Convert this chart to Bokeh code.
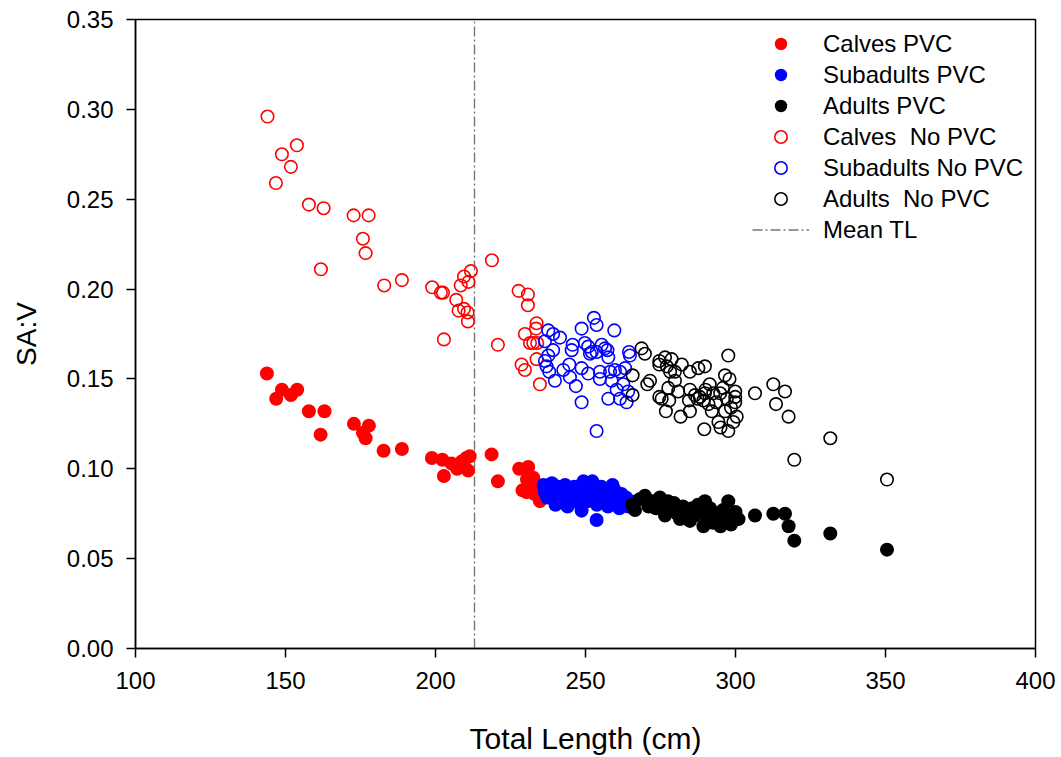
from bokeh.plotting import figure
from bokeh.models import Range1d, FixedTicker, NumeralTickFormatter, Legend, LegendItem
from bokeh.embed import file_html
from bokeh.resources import INLINE

# Total length (cm) and surface-area-to-volume ratio by age class
calves_pvc_tl = [143.8, 148.8, 146.9, 151.8, 153.9, 157.8, 163.0, 161.7, 172.8, 177.8, 175.8, 176.7,
                 182.7, 188.8, 198.8, 202.3, 202.8, 205.3, 207.2, 208.7, 210.3, 211.4, 210.9, 209.4,
                 218.7, 220.8, 227.9, 230.9, 229.0, 230.3, 232.6, 234.8, 234.0, 230.5, 233.0, 232.0]
calves_pvc_sav = [0.153, 0.144, 0.139, 0.141, 0.144, 0.132, 0.132, 0.119, 0.125, 0.124, 0.120, 0.117,
                  0.110, 0.111, 0.106, 0.105, 0.096, 0.103, 0.100, 0.104, 0.106, 0.107, 0.099, 0.101,
                  0.108, 0.093, 0.100, 0.101, 0.088, 0.087, 0.095, 0.082, 0.091, 0.094, 0.086, 0.090]

sub_pvc_tl = [236.0, 236.5, 237.2, 238.0, 238.8, 239.5, 240.2, 241.0, 241.8, 242.5, 243.2, 244.0,
              244.8, 245.5, 246.2, 247.0, 247.8, 248.6, 249.3, 250.0, 250.8, 251.5, 252.3, 253.0,
              253.8, 254.5, 255.3, 256.0, 256.8, 257.5, 258.3, 259.0, 259.8, 260.5, 261.3, 262.0,
              262.8, 263.5, 264.3, 265.0, 253.7, 248.7, 244.0, 240.0]
sub_pvc_sav = [0.091, 0.087, 0.084, 0.089, 0.092, 0.086, 0.083, 0.090, 0.087, 0.085, 0.091, 0.088,
               0.083, 0.086, 0.090, 0.084, 0.081, 0.087, 0.093, 0.085, 0.082, 0.089, 0.093, 0.086,
               0.080, 0.084, 0.090, 0.087, 0.082, 0.079, 0.085, 0.091, 0.088, 0.083, 0.078, 0.086,
               0.081, 0.084, 0.079, 0.082, 0.0715, 0.0767, 0.079, 0.080]

adult_pvc_tl = [265.5, 266.5, 268.0, 269.8, 271.0, 272.5, 273.5, 274.8, 275.5, 276.5, 277.5, 278.5,
                279.5, 280.5, 281.5, 282.5, 283.5, 284.8, 285.5, 286.5, 287.5, 288.5, 289.3, 289.8,
                290.5, 291.5, 292.5, 293.5, 294.5, 295.0, 295.8, 296.5, 297.6, 298.0, 298.5, 299.3,
                300.0, 301.0, 306.5, 312.6, 316.5, 317.7, 319.6, 331.6, 350.5]
adult_pvc_sav = [0.080, 0.077, 0.083, 0.085, 0.079, 0.082, 0.078, 0.084, 0.080, 0.074, 0.082, 0.077,
                 0.081, 0.075, 0.072, 0.079, 0.076, 0.071, 0.078, 0.074, 0.080, 0.076, 0.068, 0.082,
                 0.073, 0.078, 0.070, 0.075, 0.072, 0.068, 0.077, 0.071, 0.082, 0.074, 0.069, 0.071,
                 0.076, 0.072, 0.074, 0.075, 0.075, 0.068, 0.060, 0.064, 0.055]

calves_nopvc_tl = [144.0, 153.8, 148.8, 151.8, 146.8, 157.8, 162.7, 172.7, 177.7, 175.8, 176.7, 161.8,
                   182.9, 188.8, 198.9, 201.8, 202.5, 202.8, 206.9, 207.7, 209.5, 210.7, 210.8, 208.4,
                   209.5, 211.0, 211.8, 218.8, 220.8, 227.7, 230.8, 230.8, 233.7, 233.5, 229.8, 231.5,
                   232.6, 233.9, 228.7, 229.8, 234.8, 233.7]
calves_nopvc_sav = [0.296, 0.280, 0.275, 0.268, 0.259, 0.247, 0.245, 0.241, 0.241, 0.228, 0.220, 0.211,
                    0.202, 0.205, 0.201, 0.198, 0.198, 0.172, 0.194, 0.188, 0.189, 0.187, 0.182, 0.202,
                    0.207, 0.204, 0.210, 0.216, 0.169, 0.199, 0.197, 0.191, 0.181, 0.178, 0.175, 0.170,
                    0.170, 0.170, 0.158, 0.155, 0.147, 0.161]

sub_nopvc_tl = [252.8, 253.7, 248.7, 259.6, 237.6, 239.2, 241.5, 236.5, 245.7, 249.8, 250.9, 255.4,
                256.5, 257.3, 239.2, 245.4, 252.1, 253.7, 251.5, 264.8, 257.6, 236.5, 237.6, 244.6,
                248.7, 250.9, 254.8, 258.2, 259.8, 261.5, 263.2, 237.0, 237.9, 239.8, 242.6, 244.8,
                246.8, 248.7, 254.8, 258.7, 260.4, 257.6, 261.5, 263.7, 264.2, 253.7, 262.6, 264.5]
sub_nopvc_sav = [0.184, 0.180, 0.178, 0.177, 0.177, 0.175, 0.173, 0.171, 0.169, 0.170, 0.168, 0.169,
                 0.167, 0.166, 0.166, 0.166, 0.165, 0.165, 0.164, 0.163, 0.162, 0.160, 0.163, 0.158,
                 0.156, 0.153, 0.154, 0.154, 0.155, 0.154, 0.156, 0.157, 0.154, 0.149, 0.155, 0.151,
                 0.146, 0.137, 0.150, 0.149, 0.144, 0.139, 0.139, 0.137, 0.143, 0.121, 0.147, 0.165]

adult_nopvc_tl = [268.7, 269.8, 265.7, 265.7, 270.6, 271.5, 274.6, 276.5, 278.7, 274.6, 277.1, 278.2,
                  279.8, 282.1, 284.8, 287.6, 289.8, 297.6, 296.5, 298.0, 279.8, 277.6, 275.4, 274.6,
                  277.9, 280.9, 284.8, 284.5, 276.8, 281.7, 284.8, 288.1, 289.8, 291.4, 292.6, 294.9,
                  297.1, 299.9, 299.9, 299.9, 289.3, 291.0, 292.1, 296.5, 300.4, 299.3, 294.3, 295.0,
                  297.6, 289.6, 306.5, 312.6, 316.5, 313.5, 317.7, 331.6, 319.6, 350.5, 286.5, 287.3,
                  290.0, 293.5, 295.8, 298.5]
adult_nopvc_sav = [0.167, 0.164, 0.152, 0.141, 0.147, 0.149, 0.160, 0.162, 0.161, 0.158, 0.157, 0.154,
                   0.154, 0.158, 0.154, 0.156, 0.157, 0.163, 0.152, 0.150, 0.149, 0.145, 0.139, 0.140,
                   0.138, 0.143, 0.144, 0.138, 0.132, 0.129, 0.132, 0.140, 0.142, 0.147, 0.142, 0.142,
                   0.139, 0.143, 0.140, 0.137, 0.138, 0.136, 0.132, 0.132, 0.129, 0.126, 0.126, 0.123,
                   0.121, 0.122, 0.142, 0.147, 0.143, 0.136, 0.129, 0.117, 0.105, 0.094, 0.141, 0.139,
                   0.144, 0.137, 0.145, 0.134]

MEAN_TL = 213.0

x_ticks = [100, 150, 200, 250, 300, 350, 400]
y_ticks = [0.0, 0.05, 0.10, 0.15, 0.20, 0.25, 0.30, 0.35]

FONT = "Liberation Sans"

p = figure(width=1061, height=757, x_range=Range1d(100, 400), y_range=Range1d(0, 0.35),
           output_backend="svg", toolbar_location=None,
           min_border_left=135, min_border_right=26, min_border_top=19, min_border_bottom=109)
p.background_fill_color = "white"
p.border_fill_color = "white"
p.outline_line_color = "black"
p.outline_line_width = 1.5
p.xgrid.visible = False
p.ygrid.visible = False

for ax in (p.xaxis[0], p.yaxis[0]):
    ax.axis_line_color = "black"
    ax.axis_line_width = 1.5
    ax.major_tick_line_color = "black"
    ax.major_tick_line_width = 1.5
    ax.major_tick_in = 0
    ax.major_tick_out = 9
    ax.minor_tick_line_color = None
    ax.major_label_text_font = FONT
    ax.major_label_text_font_size = "24px"
    ax.major_label_text_color = "black"
    ax.axis_label_text_font = FONT
    ax.axis_label_text_font_style = "normal"
    ax.axis_label_text_color = "black"

p.xaxis.ticker = FixedTicker(ticks=x_ticks)
p.yaxis.ticker = FixedTicker(ticks=y_ticks)
p.yaxis.formatter = NumeralTickFormatter(format="0.00")
p.xaxis.axis_label = "Total Length (cm)"
p.yaxis.axis_label = "SA:V"
p.xaxis.axis_label_text_font_size = "30px"
p.yaxis.axis_label_text_font_size = "28px"
p.xaxis.major_label_standoff = 14
p.xaxis.axis_label_standoff = 30
p.yaxis.major_label_standoff = 13
p.yaxis.axis_label_standoff = 22

FILLED = 14
OPEN = 12.5
OPEN_W = 1.6

mean_r = p.line([MEAN_TL, MEAN_TL], [0, 0.35], line_color="#777777", line_width=1.4,
                line_dash="10 3 2 3")

r_c_open = p.scatter(calves_nopvc_tl, calves_nopvc_sav, marker="circle", size=OPEN,
                     fill_color=None, line_color="red", line_width=OPEN_W)
r_s_open = p.scatter(sub_nopvc_tl, sub_nopvc_sav, marker="circle", size=OPEN,
                     fill_color=None, line_color="blue", line_width=OPEN_W)
r_a_open = p.scatter(adult_nopvc_tl, adult_nopvc_sav, marker="circle", size=OPEN,
                     fill_color=None, line_color="black", line_width=OPEN_W)

r_c_pvc = p.scatter(calves_pvc_tl, calves_pvc_sav, marker="circle", size=FILLED,
                    fill_color="red", line_color=None)
r_s_pvc = p.scatter(sub_pvc_tl, sub_pvc_sav, marker="circle", size=FILLED,
                    fill_color="blue", line_color=None)
r_a_pvc = p.scatter(adult_pvc_tl, adult_pvc_sav, marker="circle", size=FILLED,
                    fill_color="black", line_color=None)

legend = Legend(items=[
    LegendItem(label="Calves PVC", renderers=[r_c_pvc]),
    LegendItem(label="Subadults PVC", renderers=[r_s_pvc]),
    LegendItem(label="Adults PVC", renderers=[r_a_pvc]),
    LegendItem(label="Calves  No PVC", renderers=[r_c_open]),
    LegendItem(label="Subadults No PVC", renderers=[r_s_open]),
    LegendItem(label="Adults  No PVC", renderers=[r_a_open]),
    LegendItem(label="Mean TL", renderers=[mean_r]),
], location=(617, 403))
legend.glyph_width = 57
legend.glyph_height = 31
legend.label_height = 31
legend.label_standoff = 14
legend.spacing = 0
legend.padding = 0
legend.margin = 0
legend.border_line_alpha = 0
legend.background_fill_alpha = 0
legend.label_text_font = FONT
legend.label_text_font_size = "24px"
legend.label_text_color = "black"
p.add_layout(legend)

open("out.html", "w").write(file_html(p, INLINE))
